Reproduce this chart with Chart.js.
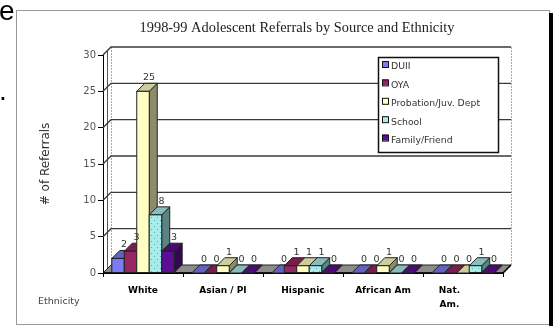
<!DOCTYPE html>
<html><head><meta charset="utf-8">
<script src="https://cdn.jsdelivr.net/npm/chart.js@4.4.1/dist/chart.umd.min.js"></script>
<style>html,body{margin:0;padding:0;background:#fff;}#wrap{position:relative;width:556px;height:326px;}</style>
</head><body><div id="wrap"><canvas id="c" width="556" height="326"></canvas></div>
<script>
const categories = ['White', 'Asian / PI', 'Hispanic', 'African Am', 'Nat. Am.'];
const seriesNames = ['DUII', 'OYA', 'Probation/Juv. Dept', 'School', 'Family/Friend'];
const duii      = [2, 0, 0, 0, 0];
const oya       = [3, 0, 1, 0, 0];
const probation = [25, 1, 1, 1, 0];
const school    = [8, 0, 1, 0, 1];
const family    = [3, 0, 0, 0, 0];
const yTicks    = [0, 5, 10, 15, 20, 25, 30];
const chartTitle = '1998-99 Adolescent Referrals by Source and Ethnicity';
const yTitle = '# of Referrals';
const xTitle = 'Ethnicity';

const seriesData = [duii, oya, probation, school, family];
const baseColors = ['#7b7bf2', '#962560', '#ffffc4', '#a9ecec', '#5c0e94'];
const DX = 8, DY = 8;

function shade(hex, f) {
  const n = parseInt(hex.slice(1), 16);
  const r = Math.round(((n >> 16) & 255) * f), g = Math.round(((n >> 8) & 255) * f), b = Math.round((n & 255) * f);
  return `rgb(${r},${g},${b})`;
}
function makePattern(bg, dot) {
  const c = document.createElement('canvas'); c.width = 6; c.height = 6;
  const x = c.getContext('2d');
  x.fillStyle = bg; x.fillRect(0, 0, 6, 6);
  x.fillStyle = dot; x.fillRect(1, 1, 1, 1); x.fillRect(4, 4, 1, 1);
  return document.getElementById('c').getContext('2d').createPattern(c, 'repeat');
}
const schoolPattern = makePattern('#a9ecec', '#5aa8a8');
const fills = baseColors.map((c, i) => i === 3 ? schoolPattern : c);

function poly(ctx, pts, fill, stroke) {
  ctx.beginPath();
  ctx.moveTo(pts[0][0], pts[0][1]);
  for (let k = 1; k < pts.length; k++) ctx.lineTo(pts[k][0], pts[k][1]);
  ctx.closePath();
  if (fill) { ctx.fillStyle = fill; ctx.fill(); }
  if (stroke) { ctx.strokeStyle = stroke; ctx.lineWidth = 1; ctx.stroke(); }
}

const threeD = {
  id: 'threeD',
  beforeDraw(chart) {
    const ctx = chart.ctx;
    ctx.save();
    ctx.fillStyle = '#fff'; ctx.fillRect(0, 0, chart.width, chart.height);
    // stray page text
    ctx.fillStyle = '#000';
    ctx.font = '28px "Liberation Sans"';
    ctx.textAlign = 'left'; ctx.textBaseline = 'alphabetic';
    ctx.fillText('e', -1, 20);
    ctx.fillText('.', -1, 100);
    // frame
    ctx.strokeStyle = '#9a9a9a'; ctx.lineWidth = 1;
    ctx.strokeRect(16.5, 10.5, 533, 314);
    ctx.fillStyle = '#000'; ctx.fillRect(549, 13, 4, 313);
    // title
    ctx.fillStyle = '#222';
    ctx.font = '14.4px "Liberation Serif"';
    ctx.textAlign = 'center';
    ctx.fillText(chartTitle, 297, 32);
    // y title
    ctx.save();
    ctx.translate(46, 164); ctx.rotate(-Math.PI / 2);
    ctx.font = '12px "DejaVu Sans"'; ctx.fillStyle = '#333';
    ctx.textAlign = 'center'; ctx.textBaseline = 'middle';
    ctx.fillText(yTitle, 0, 0);
    ctx.restore();
    // x title
    ctx.font = '9.5px "DejaVu Sans"'; ctx.fillStyle = '#444';
    ctx.textAlign = 'left'; ctx.textBaseline = 'middle';
    ctx.fillText(xTitle, 38, 302);
    ctx.restore();
  },
  beforeDatasetsDraw(chart) {
    const ctx = chart.ctx, a = chart.chartArea, ys = chart.scales.y;
    ctx.save();
    ctx.setLineDash([2, 1]);
    ctx.strokeStyle = '#aaa'; ctx.lineWidth = 1;
    ctx.beginPath();
    ctx.moveTo(a.left + DX + 0.5, a.top - DY); ctx.lineTo(a.left + DX + 0.5, a.bottom - DY);
    ctx.moveTo(a.right + DX + 0.5, a.top - DY); ctx.lineTo(a.right + DX + 0.5, a.bottom - DY);
    ctx.stroke();
    ctx.setLineDash([]);
    ctx.strokeStyle = '#555';
    ctx.beginPath();
    ctx.moveTo(a.left + 4.5, a.top - 4); ctx.lineTo(a.left + 4.5, a.bottom - 4);
    ctx.stroke();
    ctx.strokeStyle = '#3a3a3a'; ctx.lineWidth = 1.3;
    yTicks.forEach(v => {
      if (v === 0) return;
      const py = ys.getPixelForValue(v);
      ctx.beginPath();
      ctx.moveTo(a.left, py);
      ctx.lineTo(a.left + DX, py - DY);
      ctx.lineTo(a.right + DX, py - DY);
      ctx.stroke();
    });
    poly(ctx, [[a.left, a.bottom], [a.right, a.bottom], [a.right + DX, a.bottom - DY], [a.left + DX, a.bottom - DY]], '#8c8c8c', '#222');
    ctx.strokeStyle = '#000'; ctx.lineWidth = 1.5;
    ctx.beginPath(); ctx.moveTo(a.left, a.bottom); ctx.lineTo(a.right, a.bottom); ctx.lineTo(a.right + DX, a.bottom - DY); ctx.stroke();
    ctx.restore();
  },
  afterDatasetsDraw(chart) {
    const ctx = chart.ctx;
    ctx.save();
    const n = categories.length;
    const labels = [];
    for (let i = 0; i < n; i++) {
      for (let j = 0; j < seriesData.length; j++) {
        const el = chart.getDatasetMeta(j).data[i];
        const p = el.getProps(['x', 'y', 'base', 'width'], true);
        const L = p.x - p.width / 2, R = p.x + p.width / 2, T = Math.min(p.y, p.base), B = p.base;
        const base = baseColors[j];
        poly(ctx, [[R, T], [R + DX, T - DY], [R + DX, B - DY], [R, B]], shade(base, 0.55), '#222');
        poly(ctx, [[L, T], [L + DX, T - DY], [R + DX, T - DY], [R, T]], shade(base, 0.8), '#222');
        if (B - T > 0.5) {
          ctx.fillStyle = fills[j];
          ctx.fillRect(L, T, p.width, B - T);
          ctx.strokeStyle = '#222'; ctx.lineWidth = 1;
          ctx.strokeRect(L, T, p.width, B - T);
        }
        labels.push([String(seriesData[j][i]), p.x + 6, T - DY - 3]);
      }
    }
    ctx.font = '9.5px "DejaVu Sans"'; ctx.fillStyle = '#333';
    ctx.textAlign = 'center'; ctx.textBaseline = 'alphabetic';
    labels.forEach(l => ctx.fillText(l[0], l[1], l[2]));
    const lx = 378, ly = 57, lw = 120, lh = 95;
    ctx.fillStyle = '#fff'; ctx.fillRect(lx, ly, lw, lh);
    ctx.strokeStyle = '#111'; ctx.lineWidth = 1.5;
    ctx.strokeRect(lx + 0.5, ly + 0.5, lw, lh);
    ctx.font = '9.3px "DejaVu Sans"'; ctx.textAlign = 'left'; ctx.textBaseline = 'middle';
    seriesNames.forEach((name, k) => {
      const cy = 67 + k * 18.4;
      ctx.fillStyle = baseColors[k];
      ctx.fillRect(lx + 4, cy - 6, 6, 6);
      ctx.strokeStyle = '#111'; ctx.lineWidth = 1;
      ctx.strokeRect(lx + 4.5, cy - 5.5, 6, 6);
      ctx.fillStyle = '#333';
      ctx.fillText(name, lx + 13, cy);
    });
    ctx.restore();
  }
};

new Chart(document.getElementById('c'), {
  type: 'bar',
  data: {
    labels: categories,
    datasets: seriesNames.map((name, i) => ({
      label: name, data: seriesData[i], backgroundColor: fills[i],
      borderColor: '#222', borderWidth: 1, categoryPercentage: 0.78, barPercentage: 1
    }))
  },
  options: {
    responsive: false, animation: false, devicePixelRatio: 1,
    layout: { padding: { left: 0, right: 53, top: 55, bottom: 0 } },
    plugins: { legend: { display: false }, title: { display: false }, tooltip: { enabled: false } },
    scales: {
      x: {
        grid: { display: true, drawOnChartArea: false, tickLength: 4, color: '#000', offset: true },
        border: { display: true, color: '#000' },
        ticks: {
          font: { family: 'DejaVu Sans', size: 9, weight: 'bold', lineHeight: 1.6 }, color: '#000',
          padding: 6, maxRotation: 0, autoSkip: false,
          callback: (v, i) => categories[i] === 'Nat. Am.' ? ['Nat.\u2003\u2003\u2003', 'Am.\u2003\u2003\u2003'] : categories[i]
        },
        afterFit(s) { s.height = 53; }
      },
      y: {
        min: 0, max: 30,
        afterBuildTicks(s) { s.ticks = yTicks.map(v => ({ value: v })); },
        grid: { drawOnChartArea: false, tickLength: 5, color: '#000' },
        border: { display: true, color: '#000' },
        ticks: { font: { family: 'DejaVu Sans', size: 10 }, color: '#555', padding: 2 },
        afterFit(s) { s.width = 103; }
      }
    }
  },
  plugins: [threeD]
});
</script></body></html>
